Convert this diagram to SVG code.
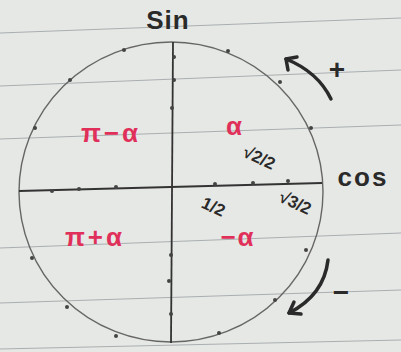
<svg xmlns="http://www.w3.org/2000/svg" width="401" height="352" viewBox="0 0 401 352">
<defs>
<style>
.rule{stroke:#a9aeb0;stroke-width:1.2;fill:none}
.ax{stroke:#333;stroke-width:1.8;fill:none}
.circ{stroke:#666;stroke-width:1.4;fill:none}
.dot{fill:#444}
.lbl{font-family:"Liberation Sans",Arial,sans-serif;font-weight:bold;fill:#2a2a2a}
.red{font-family:"Liberation Sans",Arial,sans-serif;font-weight:bold;fill:#e0305a;font-size:26px}
.arr{stroke:#2a2a2a;stroke-width:3.5;fill:none;stroke-linecap:round;stroke-linejoin:round}
</style>
</defs>
<rect width="401" height="352" fill="#e6e8e5"/>
<g id="rules">
<path class="rule" d="M0 33 L401 18"/>
<path class="rule" d="M0 86 L401 70"/>
<path class="rule" d="M0 139 L401 125"/>
<path class="rule" d="M0 248 L401 233"/>
<path class="rule" d="M0 303 L401 290"/>
<path class="rule" d="M0 349 L401 340"/>
</g>
<g id="circle">
<ellipse class="circ" cx="171" cy="192" rx="152" ry="150"/>
<g class="dot">
<circle cx="124" cy="50" r="2"/><circle cx="70" cy="80" r="2"/><circle cx="35" cy="128" r="2"/>
<circle cx="228" cy="51" r="2"/><circle cx="280" cy="82" r="2"/><circle cx="311" cy="128" r="2"/>
<circle cx="32" cy="258" r="2"/><circle cx="67" cy="307" r="2"/><circle cx="116" cy="336" r="2"/>
<circle cx="306" cy="250" r="2"/><circle cx="275" cy="300" r="2"/><circle cx="219" cy="333" r="2"/>
</g>
</g>
<g id="axes">
<path class="ax" d="M19 191 L322 183"/>
<path class="ax" d="M173 42 L171 343"/>
<g class="dot">
<circle cx="174" cy="57" r="2"/><circle cx="174" cy="80" r="2"/><circle cx="172" cy="108" r="2"/>
<circle cx="171" cy="255" r="2"/><circle cx="169" cy="281" r="2"/><circle cx="171" cy="314" r="2"/>
<circle cx="52" cy="191" r="2"/><circle cx="79" cy="189" r="2"/><circle cx="116" cy="187" r="2"/>
<circle cx="215" cy="184" r="2"/><circle cx="253" cy="183" r="2"/><circle cx="288" cy="181" r="2"/>
</g>
</g>
<g id="connectors">
<path class="arr" d="M331 99 Q318 72 286 59"/>
<path class="arr" d="M286 59 L288 70 M286 59 L297 57"/>
<path class="arr" d="M328 260 Q324 295 289 313"/>
<path class="arr" d="M289 313 L294 302 M289 313 L301 314"/>
</g>
<g id="labels">
<text class="lbl" x="168" y="29" font-size="26" text-anchor="middle" letter-spacing="1">Sin</text>
<text class="lbl" x="363" y="186" font-size="26" text-anchor="middle" font-weight="normal" letter-spacing="2">cos</text>
<text class="lbl" x="337" y="79" font-size="28" text-anchor="middle">+</text>
<text class="lbl" x="341" y="302" font-size="28" text-anchor="middle">−</text>
<text class="red" x="111" y="142" text-anchor="middle" letter-spacing="3">π−α</text>
<text class="red" x="234" y="135" text-anchor="middle">α</text>
<text class="red" x="95" y="246" text-anchor="middle" letter-spacing="3">π+α</text>
<text class="red" x="238" y="246" text-anchor="middle" letter-spacing="2">−α</text>
<text class="lbl" font-size="17" text-anchor="middle" transform="translate(257,163) rotate(25)">√2/2</text>
<text class="lbl" font-size="17" text-anchor="middle" transform="translate(211,212) rotate(25)">1/2</text>
<text class="lbl" font-size="17" text-anchor="middle" transform="translate(293,208) rotate(25)">√3/2</text>
</g>
</svg>
